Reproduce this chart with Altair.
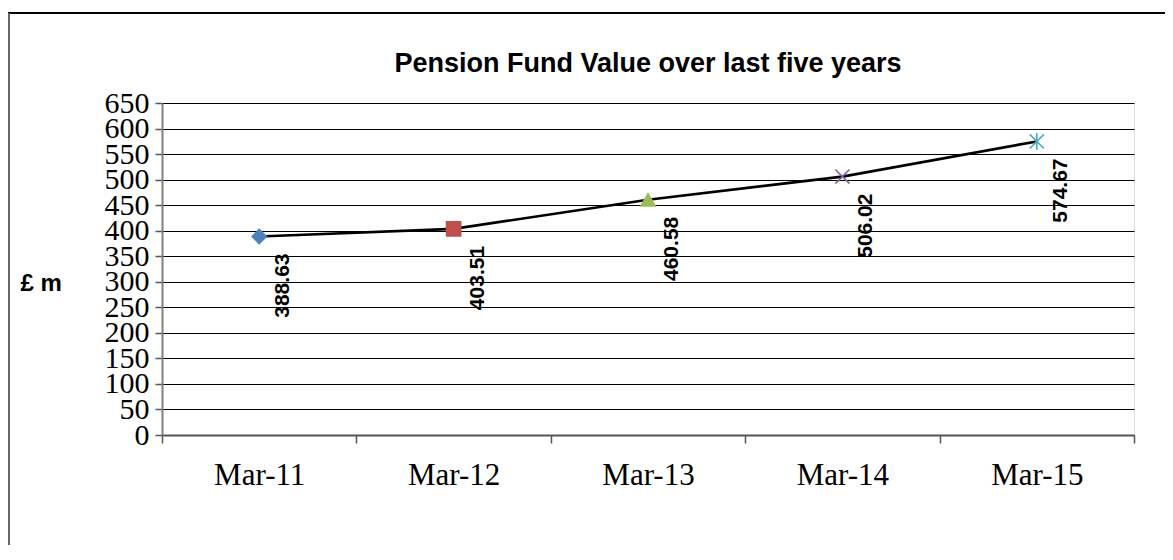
import altair as alt
import pandas as pd

periods = ["Mar-11", "Mar-12", "Mar-13", "Mar-14", "Mar-15"]
values = [388.63, 403.51, 460.58, 506.02, 574.67]
labels = ["388.63", "403.51", "460.58", "506.02", "574.67"]
marker_colors = ["#4F81BD", "#C0504D", "#9BBB59", "#8064A2", "#4BACC6"]
marker_shapes = [
    "diamond",
    "square",
    "triangle-up",
    "M-1,-1L1,1M-1,1L1,-1",
    "M-1,-1L1,1M-1,1L1,-1M0,-1.2L0,1.2",
]
y_ticks = list(range(0, 651, 50))
chart_title = "Pension Fund Value over last five years"

df = pd.DataFrame({"period": periods, "value": values, "label": labels})

W, H = 972, 332
PAD_L, PAD_T, PAD_R, PAD_B = 154, 95, 31, 110

x_enc = alt.X(
    "period:N",
    sort=periods,
    scale=alt.Scale(paddingInner=0, paddingOuter=0),
    axis=alt.Axis(
        title=None,
        labelAngle=0,
        labelFont="Times New Roman",
        labelFontSize=31,
        labelColor="#000000",
        labelPadding=17,
        tickBand="extent",
        tickSize=8,
        tickColor="#555555",
        tickWidth=1.5,
        domainColor="#555555",
        domainWidth=2,
        grid=False,
    ),
)
y_enc = alt.Y(
    "value:Q",
    scale=alt.Scale(domain=[0, 650], nice=False, zero=True),
    axis=alt.Axis(
        values=y_ticks,
        tickCount=14,
        title="£ m",
        titleAngle=0,
        titleFont="Arial",
        titleFontSize=24,
        titleFontWeight="bold",
        titleColor="#000000",
        titleAlign="left",
        titleBaseline="middle",
        titleX=-142,
        titleY=180,
        labelFont="Times New Roman",
        labelFontSize=30,
        labelColor="#000000",
        labelPadding=6,
        labelOverlap=False,
        labelFlush=False,
        labelBound=False,
        tickSize=7,
        tickColor="#555555",
        tickWidth=1.5,
        domainColor="#808080",
        domainWidth=2,
        grid=True,
        gridColor="#000000",
        gridWidth=1,
    ),
)

base = alt.Chart(df).encode(x=x_enc, y=y_enc)

line = base.mark_line(color="#000000", strokeWidth=2.7)

points = base.mark_point(filled=True, size=200, strokeWidth=1.6, opacity=1).encode(
    shape=alt.Shape("period:N", scale=alt.Scale(domain=periods, range=marker_shapes), legend=None),
    fill=alt.Fill("period:N", scale=alt.Scale(domain=periods, range=marker_colors), legend=None),
    stroke=alt.Stroke("period:N", scale=alt.Scale(domain=periods, range=marker_colors), legend=None),
)

texts = base.mark_text(
    angle=270,
    align="right",
    baseline="middle",
    dx=-17,
    dy=24,
    font="Arial",
    fontSize=21,
    fontWeight="bold",
    color="#000000",
).encode(text="label:N")

frame = alt.Data(values=[{"t": chart_title}])
top_border = alt.Chart(frame).mark_rule(color="#000000", strokeWidth=2).encode(
    x=alt.value(-PAD_L), x2=alt.value(W + PAD_R), y=alt.value(-90)
)
left_border = alt.Chart(frame).mark_rule(color="#666666", strokeWidth=2).encode(
    x=alt.value(-153), y=alt.value(-90), y2=alt.value(H + PAD_B)
)
title_text = alt.Chart(frame).mark_text(
    font="Arial", fontSize=27, fontWeight="bold", color="#000000",
    align="center", baseline="middle",
).encode(x=alt.value(W / 2), y=alt.value(-39), text="t:N")

chart = (
    alt.layer(line, points, texts, top_border, left_border, title_text)
    .resolve_scale(shape="independent", fill="independent", stroke="independent")
    .properties(
        width=W,
        height=H,
        autosize=alt.AutoSizeParams(type="none"),
        padding={"left": PAD_L, "top": PAD_T, "right": PAD_R, "bottom": PAD_B},
    )
    .configure_view(stroke="#888888", strokeWidth=2)
    .configure(background="#ffffff")
)

chart.save("out.html", embed_options={"renderer": "svg", "actions": False})
